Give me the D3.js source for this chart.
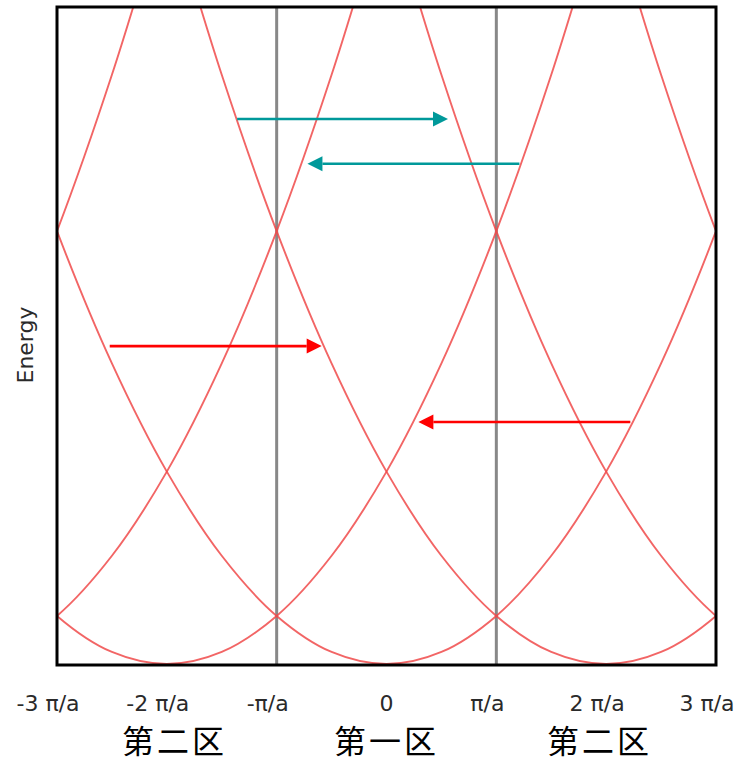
<!DOCTYPE html>
<html lang="zh">
<head>
<meta charset="utf-8">
<title>Energy bands</title>
<script src="https://cdn.jsdelivr.net/npm/d3@7"></script>
<style>
  body { margin: 0; background: #fff; }
  svg { display: block; }
</style>
</head>
<body>
<script>
// band centres (reciprocal lattice vectors, units of pi/a)
var bandCenters = [-6, -4, -2, 0, 2, 4, 6];
// one band: energy vs distance from its centre
var bandDk = [0, 0.5, 1, 1.5, 2, 2.5, 3, 3.5, 4];
var bandE  = [0, 0.25, 1, 2.25, 4, 6.25, 9, 12.25, 16];

// x ticks
var tickK = [-3, -2, -1, 0, 1, 2, 3];
var tickLabels = ["-3 π/a", "-2 π/a", "-π/a", "0", "π/a", "2 π/a", "3 π/a"];
// zone boundaries (grey lines)
var zoneLines = [-1, 1];
// zone names
var zoneK = [-1.93, 0, 1.94];
var zoneNames = ["第二区", "第一区", "第二区"];

// arrows: from k, to k, energy
var arrowFrom = [-1.36, 1.21, -2.52, 2.22];
var arrowTo   = [0.56, -0.72, -0.59, 0.29];
var arrowE    = [11.33, 10.40, 6.61, 5.03];
var arrowColor = ["#00999a", "#00999a", "#ff0000", "#ff0000"];

var w = 736, h = 762;
var x = d3.scaleLinear().domain([-3, 3]).range([57, 716]);
var y = d3.scaleLinear().domain([0, 13.66]).range([664, 7]);

var svg = d3.select("body").append("svg")
    .attr("width", w)
    .attr("height", h);

svg.append("defs").append("clipPath").attr("id", "plot")
    .append("rect")
    .attr("x", x(-3)).attr("y", 7)
    .attr("width", x(3) - x(-3)).attr("height", 658);

// zone boundaries
svg.selectAll("line.zone")
    .data(zoneLines)
    .enter().append("line")
    .attr("class", "zone")
    .attr("x1", function(d) { return x(d); })
    .attr("x2", function(d) { return x(d); })
    .attr("y1", 7).attr("y2", 665)
    .attr("stroke", "#888")
    .attr("stroke-width", 3);

// bands, mirrored around each centre
var half = bandDk.map(function(d, i) { return [d, bandE[i]]; });
var full = half.slice(1).reverse().map(function(p) { return [-p[0], p[1]]; }).concat(half);

var line = d3.line()
    .x(function(d) { return x(d[0]); })
    .y(function(d) { return y(d[1]); })
    .curve(d3.curveCatmullRom.alpha(0.5));

svg.append("g")
    .attr("clip-path", "url(#plot)")
    .selectAll("path")
    .data(bandCenters)
    .enter().append("path")
    .attr("d", function(c) { return line(full.map(function(p) { return [p[0] + c, p[1]]; })); })
    .attr("fill", "none")
    .attr("stroke", "#f04a4a")
    .attr("stroke-opacity", 0.85)
    .attr("stroke-width", 1.9);

// frame
svg.append("rect")
    .attr("x", x(-3)).attr("y", 7)
    .attr("width", x(3) - x(-3)).attr("height", 658)
    .attr("fill", "none")
    .attr("stroke", "#000")
    .attr("stroke-width", 3);

// arrows
var headL = 15, headW = 7.5;
arrowE.forEach(function(e, i) {
    var x1 = x(arrowFrom[i]), x2 = x(arrowTo[i]), yy = y(e);
    var dir = x2 > x1 ? 1 : -1;
    svg.append("line")
        .attr("x1", x1).attr("x2", x2 - dir * headL)
        .attr("y1", yy).attr("y2", yy)
        .attr("stroke", arrowColor[i])
        .attr("stroke-width", 2.6);
    svg.append("polygon")
        .attr("points", [[x2, yy], [x2 - dir * headL, yy - headW], [x2 - dir * headL, yy + headW]].join(" "))
        .attr("fill", arrowColor[i]);
});

// tick labels
svg.selectAll("text.tick")
    .data(tickK)
    .enter().append("text")
    .attr("class", "tick")
    .attr("x", function(d) { return x(d) + (d === 0 ? 0 : -9); })
    .attr("y", 710.5)
    .attr("text-anchor", "middle")
    .attr("font-family", "DejaVu Sans, sans-serif")
    .attr("font-size", 22)
    .attr("fill", "#2a2a2a")
    .text(function(d, i) { return tickLabels[i]; });

// zone names
svg.selectAll("text.zone")
    .data(zoneK)
    .enter().append("text")
    .attr("class", "zone")
    .attr("x", function(d) { return x(d); })
    .attr("y", 752.5)
    .attr("text-anchor", "middle")
    .attr("font-family", "Noto Sans CJK SC, sans-serif")
    .attr("font-size", 32)
    .attr("letter-spacing", 3)
    .attr("fill", "#000")
    .text(function(d, i) { return zoneNames[i]; });

// y label
svg.append("text")
    .attr("transform", "translate(33,345) rotate(-90)")
    .attr("text-anchor", "middle")
    .attr("font-family", "DejaVu Sans, sans-serif")
    .attr("font-size", 22)
    .attr("fill", "#2a2a2a")
    .text("Energy");
</script>
</body>
</html>
